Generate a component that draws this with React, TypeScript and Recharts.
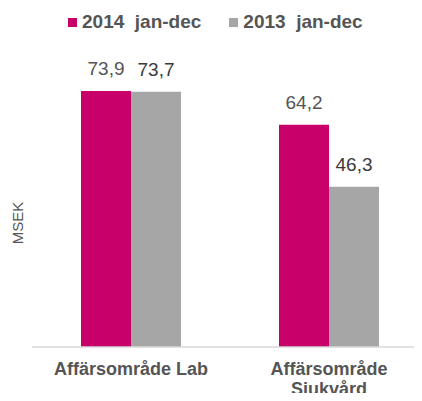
import React from 'react';
import { BarChart, Bar, XAxis, YAxis, LabelList } from 'recharts';

const categories = ['Affärsområde Lab', 'Affärsområde Sjukvård'];
const values2014 = [73.9, 64.2];
const values2013 = [73.7, 46.3];

const series = [
  { id: 'y2014', name: '2014  jan-dec', color: '#c8006a', labelColor: '#555555' },
  { id: 'y2013', name: '2013  jan-dec', color: '#a6a6a6', labelColor: '#3a3a3a' }
];

const data = categories.map((name, i) => ({
  name,
  y2014: values2014[i],
  y2013: values2013[i]
}));

const font = '"Liberation Sans", Arial, sans-serif';
const formatValue = (v: any) => String(Number(v).toFixed(1)).replace('.', ',');

// simple wrap: long names break at the last space
const splitLabel = (s: string) => {
  if (s.length <= 16) return [s];
  const i = s.lastIndexOf(' ');
  return [s.slice(0, i), s.slice(i + 1)];
};

const CategoryTick = ({ x, y, payload }: any) => (
  <text
    x={x}
    y={y}
    textAnchor="middle"
    fill="#555555"
    fontSize={18}
    fontWeight="bold"
    fontFamily={font}
  >
    {splitLabel(payload.value).map((line, i) => (
      <tspan key={i} x={x} dy={i === 0 ? 20 : 20}>
        {line}
      </tspan>
    ))}
  </text>
);

export default function App() {
  return (
    <div style={{ position: 'relative', width: 422, height: 401, margin: -8, overflow: 'hidden', background: '#fff' }}>
      <div style={{ position: 'absolute', top: 11, left: 68, display: 'flex', fontFamily: font }}>
        {series.map((s, i) => (
          <div key={s.id} style={{ display: 'flex', alignItems: 'center', gap: 5, marginLeft: i ? 28 : 0 }}>
            <div style={{ width: 9, height: 9, background: s.color }} />
            <span style={{ fontSize: 19, fontWeight: 'bold', color: '#555555', whiteSpace: 'pre' }}>{s.name}</span>
          </div>
        ))}
      </div>
      <div
        style={{
          position: 'absolute',
          left: 17,
          top: 223,
          transform: 'translate(-50%, -50%) rotate(-90deg)',
          fontFamily: font,
          fontSize: 15,
          color: '#555555'
        }}
      >
        MSEK
      </div>
      <BarChart
        width={428}
        height={401}
        data={data}
        margin={{ top: 70, right: 0, bottom: 0, left: 0 }}
        barGap={0}
        barSize={50}
      >
        <XAxis
          dataKey="name"
          tickLine={false}
          axisLine={{ stroke: '#d9d9d9', strokeWidth: 1.5 }}
          height={54}
          interval={0}
          tick={<CategoryTick />}
        />
        <YAxis domain={[0, 80]} width={32} tick={false} axisLine={false} tickLine={false} />
        {series.map(s => (
          <Bar key={s.id} dataKey={s.id} fill={s.color} isAnimationActive={false}>
            <LabelList
              dataKey={s.id}
              position="top"
              offset={16}
              formatter={formatValue}
              fill={s.labelColor}
              fontSize={19}
              fontFamily={font}
            />
          </Bar>
        ))}
      </BarChart>
    </div>
  );
}
